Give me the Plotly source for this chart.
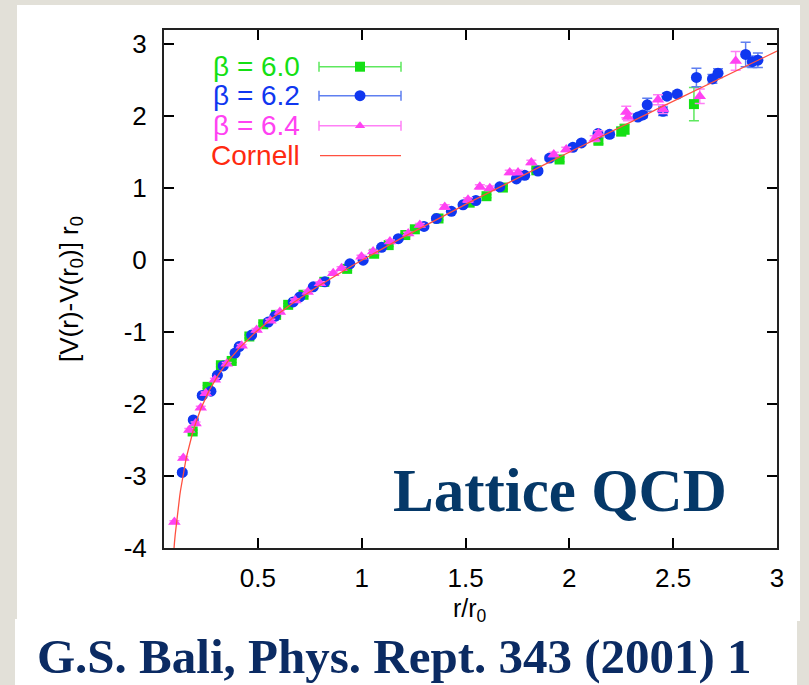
import numpy as np
import plotly.graph_objects as go

# ---- static potential data, [V(r)-V(r0)] r0 versus r/r0 ----
r_b60 = [0.186, 0.258, 0.322, 0.374, 0.459, 0.526, 0.588, 0.646, 0.720, 0.820,
         0.930, 1.060, 1.130, 1.210, 1.256, 1.370, 1.520, 1.601, 1.680, 1.841,
         1.953, 2.140, 2.250, 2.266, 2.600]
v_b60 = [-2.38, -1.76, -1.46, -1.40, -1.06, -0.89, -0.76, -0.62, -0.48, -0.30,
         -0.12, 0.09, 0.21, 0.35, 0.43, 0.58, 0.80, 0.89, 1.01, 1.25,
         1.40, 1.66, 1.79, 1.82, 2.17]
e_b60 = [0.02, 0.02, 0.02, 0.02, 0.02, 0.02, 0.02, 0.02, 0.02, 0.02,
         0.02, 0.02, 0.02, 0.02, 0.02, 0.02, 0.02, 0.02, 0.02, 0.03,
         0.03, 0.04, 0.06, 0.07, 0.23]

r_b62 = [0.136, 0.189, 0.232, 0.274, 0.305, 0.333, 0.390, 0.410, 0.470, 0.550,
         0.582, 0.670, 0.702, 0.767, 0.823, 0.943, 1.007, 1.096, 1.176, 1.300,
         1.360, 1.432, 1.488, 1.550, 1.665, 1.745, 1.785, 1.849, 1.905, 2.017,
         2.058, 2.138, 2.194, 2.330, 2.354, 2.375, 2.451, 2.470, 2.520, 2.612,
         2.689, 2.716, 2.849, 2.881, 2.908]
v_b62 = [-2.95, -2.22, -1.88, -1.82, -1.60, -1.47, -1.29, -1.20, -1.04, -0.86,
         -0.78, -0.58, -0.51, -0.37, -0.30, -0.05, 0.00, 0.18, 0.30, 0.47,
         0.58, 0.68, 0.77, 0.83, 1.02, 1.13, 1.18, 1.24, 1.42, 1.57,
         1.63, 1.76, 1.75, 1.99, 2.02, 2.16, 2.07, 2.28, 2.31, 2.54,
         2.52, 2.60, 2.86, 2.76, 2.78]
e_b62 = [0.02, 0.02, 0.02, 0.02, 0.02, 0.02, 0.02, 0.02, 0.02, 0.02,
         0.02, 0.02, 0.02, 0.02, 0.02, 0.02, 0.02, 0.02, 0.02, 0.02,
         0.02, 0.02, 0.02, 0.02, 0.02, 0.02, 0.03, 0.03, 0.03, 0.03,
         0.03, 0.04, 0.04, 0.04, 0.04, 0.09, 0.06, 0.04, 0.04, 0.13,
         0.06, 0.06, 0.17, 0.08, 0.10]

r_b64 = [0.098, 0.141, 0.170, 0.200, 0.225, 0.249, 0.293, 0.350, 0.422, 0.494,
         0.560, 0.606, 0.680, 0.740, 0.799, 0.863, 0.903, 0.999, 1.055, 1.136,
         1.224, 1.280, 1.400, 1.512, 1.569, 1.617, 1.713, 1.753, 1.817, 1.925,
         1.985, 2.122, 2.140, 2.274, 2.282, 2.427, 2.451, 2.628, 2.801]
v_b64 = [-3.64, -2.75, -2.36, -2.27, -2.05, -1.85, -1.66, -1.44, -1.19, -0.97,
         -0.84, -0.72, -0.56, -0.44, -0.32, -0.18, -0.11, 0.05, 0.12, 0.26,
         0.37, 0.49, 0.74, 0.84, 1.02, 1.00, 1.22, 1.22, 1.36, 1.47,
         1.54, 1.69, 1.76, 2.06, 1.99, 2.23, 2.10, 2.28, 2.77]
e_b64 = [0.02, 0.02, 0.02, 0.02, 0.02, 0.02, 0.02, 0.02, 0.02, 0.02,
         0.02, 0.02, 0.02, 0.02, 0.02, 0.02, 0.02, 0.02, 0.02, 0.02,
         0.02, 0.02, 0.03, 0.03, 0.03, 0.03, 0.03, 0.03, 0.03, 0.03,
         0.03, 0.04, 0.04, 0.08, 0.05, 0.07, 0.06, 0.10, 0.13]

# Cornell parametrisation: sigma r0^2 = 1.65 - e
cornell_e = 0.295
cornell_sigma = 1.65 - cornell_e

series_labels = ["β = 6.0", "β = 6.2", "β = 6.4", "Cornell"]
x_ticks = [0.5, 1, 1.5, 2, 2.5, 3]
y_ticks = [-4, -3, -2, -1, 0, 1, 2, 3]

# ---- styling ----
GREEN, BLUE, MAGENTA, RED = "#14e014", "#1037f0", "#ff42f2", "#ff2a10"
GREEN_BAR, BLUE_BAR, MAGENTA_BAR, RED_LINE = "#5ee85e", "#5f7ff0", "#ff80f6", "#ff5040"
SANS = "Liberation Sans, Arial, Helvetica, sans-serif"
SERIF = "Liberation Serif, Times New Roman, serif"
NAVY = "#053868"
NAVY2 = "#0b2b63"

W, H = 809, 685
L, R, T, B = 164, 777, 30, 548  # plot frame in pixels


def px(xp):
    return (xp - L) / (R - L)


def py(yp):
    return (B - yp) / (B - T)


fig = go.Figure()


def add_series(r, v, err, color, bar, symbol, size):
    fig.add_trace(go.Scatter(
        x=r, y=v, mode="markers",
        marker=dict(symbol=symbol, size=size, color=color, line=dict(width=0)),
        error_y=dict(type="data", array=err, visible=True, color=bar,
                     thickness=1.5, width=5),
        showlegend=False, hoverinfo="skip"))


add_series(r_b60, v_b60, e_b60, GREEN, GREEN_BAR, "square", 10)
add_series(r_b62, v_b62, e_b62, BLUE, BLUE_BAR, "circle", 11)
add_series(r_b64, v_b64, e_b64, MAGENTA, MAGENTA_BAR, "triangle-up", 11)

r_fit = np.linspace(0.08, 3.0, 800)
v_fit = cornell_sigma * (r_fit - 1.0) - cornell_e * (1.0 / r_fit - 1.0)
fig.add_trace(go.Scatter(x=r_fit, y=v_fit, mode="lines",
                         line=dict(color=RED_LINE, width=1.3),
                         showlegend=False, hoverinfo="skip"))

# ---- key: text on the left, sample on the right (drawn on an overlay frame 0..1) ----
key_rows = [66.7, 95.7, 125.7, 155.7]
key_x0, key_x1, key_xm = px(320), px(401), px(360)
key_styles = [(GREEN, GREEN_BAR, "square", 10),
              (BLUE, BLUE_BAR, "circle", 11),
              (MAGENTA, MAGENTA_BAR, "triangle-up", 9)]
for (col, bar, sym, sz), yp in zip(key_styles, key_rows[:3]):
    fig.add_trace(go.Scatter(
        x=[key_xm], y=[py(yp)], xaxis="x2", yaxis="y2", mode="markers",
        marker=dict(symbol=sym, size=sz, color=col, line=dict(width=0)),
        error_x=dict(type="constant", value=key_x1 - key_xm, color=bar,
                     thickness=1.5, width=5),
        showlegend=False, hoverinfo="skip"))
fig.add_trace(go.Scatter(
    x=[key_x0, key_x1], y=[py(key_rows[3])] * 2, xaxis="x2", yaxis="y2",
    mode="lines", line=dict(color=RED_LINE, width=1.3),
    showlegend=False, hoverinfo="skip"))

annotations = []
for label, col, yp in zip(series_labels, [GREEN, BLUE, MAGENTA, RED], key_rows):
    annotations.append(dict(text=label, x=px(302), y=py(yp), xref="paper", yref="paper",
                            xanchor="right", yanchor="middle", showarrow=False,
                            font=dict(family=SANS, size=28, color=col)))

# axis titles
annotations.append(dict(text="[V(r)-V(r<sub>0</sub>)] r<sub>0</sub>", x=px(70), y=py(289),
                        xref="paper", yref="paper", textangle=-90,
                        xanchor="center", yanchor="middle", showarrow=False,
                        font=dict(family=SANS, size=26, color="black")))
annotations.append(dict(text="r/r<sub>0</sub>", x=px(470), y=py(610),
                        xref="paper", yref="paper", xanchor="center", yanchor="middle",
                        showarrow=False, font=dict(family=SANS, size=25, color="black")))

# captions
annotations.append(dict(text="<b>Lattice QCD</b>", x=px(729), y=py(490),
                        xref="paper", yref="paper", xanchor="right", yanchor="middle",
                        showarrow=False, font=dict(family=SERIF, size=61, color=NAVY)))
annotations.append(dict(text="<b>G.S. Bali, Phys. Rept. 343 (2001) 1</b>", x=px(35), y=py(656),
                        xref="paper", yref="paper", xanchor="left", yanchor="middle",
                        showarrow=False, font=dict(family=SERIF, size=49, color=NAVY2)))

shapes = [
    dict(type="rect", xref="paper", yref="paper", layer="below",
         x0=px(17), x1=px(800), y0=py(621), y1=py(5),
         fillcolor="white", line=dict(width=0)),
    dict(type="rect", xref="paper", yref="paper", layer="below",
         x0=px(15), x1=px(797), y0=py(690), y1=py(619),
         fillcolor="white", line=dict(width=0)),
]

axis_common = dict(showgrid=False, zeroline=False, ticks="inside", ticklen=10,
                   tickwidth=1.5, tickcolor="black", mirror="ticks", showline=True,
                   linecolor="#222222", linewidth=2,
                   tickfont=dict(family=SANS, size=26, color="black"))

fig.update_layout(
    width=W, height=H,
    margin=dict(l=L, r=W - R, t=T, b=H - B, autoexpand=False),
    paper_bgcolor="#e2e0d8", plot_bgcolor="white",
    xaxis=dict(range=[0.048, 3.0], tickvals=x_ticks, ticktext=[str(t) for t in x_ticks],
               ticklabelstandoff=6, **axis_common),
    yaxis=dict(range=[-4.0, 3.2], tickvals=y_ticks, ticktext=[str(t) for t in y_ticks],
               ticklabelstandoff=10, **axis_common),
    xaxis2=dict(range=[0, 1], overlaying="x", visible=False, fixedrange=True),
    yaxis2=dict(range=[0, 1], overlaying="y", visible=False, fixedrange=True),
    annotations=annotations, shapes=shapes, showlegend=False,
)

fig.write_html("out.html")
